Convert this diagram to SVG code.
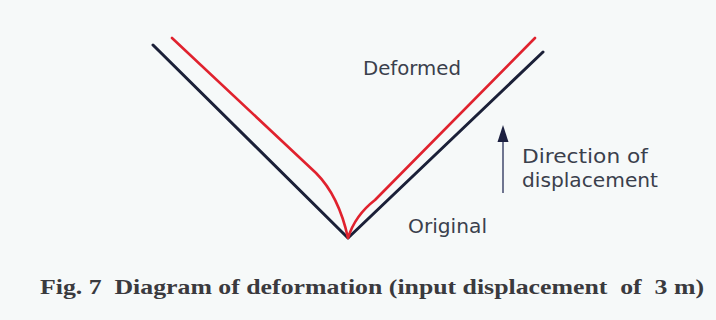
<svg xmlns="http://www.w3.org/2000/svg" width="716" height="320" viewBox="0 0 716 320">
  <defs>
    <style>
      .orig { fill: none; stroke: #1b2038; stroke-width: 3; stroke-linejoin: round; stroke-linecap: round; }
      .def { fill: none; stroke: #e0222e; stroke-width: 2.6; stroke-linejoin: round; stroke-linecap: round; }
      .lbl { font-family: "DejaVu Sans", "Liberation Sans", sans-serif; font-size: 19px; fill: #3a404c; }
      .cap { font-family: "Liberation Serif", "Times New Roman", serif; font-size: 21px; font-weight: bold; fill: #3a3a3e; }
    </style>
  </defs>
  <rect x="0" y="0" width="716" height="320" fill="#f6f9f9"/>
  <g id="connectors">
    <path id="original-line" class="orig" d="M153,45 L348,238 L543,52"/>
    <path id="deformed-line" class="def" d="M172,38 L316,173 C330,187 341,206 348,238 C353,222 362,210 375,200 L535,38"/>
    <g id="direction-arrow">
      <line x1="503" y1="193" x2="503" y2="139" stroke="#6f7590" stroke-width="2"/>
      <polygon points="503,125 497.5,142 508.5,142" fill="#1c2040"/>
    </g>
  </g>
  <g id="label-deformed">
    <text class="lbl" x="363" y="75" textLength="98" lengthAdjust="spacingAndGlyphs">Deformed</text>
  </g>
  <g id="label-direction">
    <text class="lbl" x="522" y="163" textLength="126" lengthAdjust="spacingAndGlyphs">Direction of</text>
    <text class="lbl" x="522" y="187" textLength="136" lengthAdjust="spacingAndGlyphs">displacement</text>
  </g>
  <g id="label-original">
    <text class="lbl" x="408" y="233" textLength="79" lengthAdjust="spacingAndGlyphs">Original</text>
  </g>
  <g id="caption">
    <text class="cap" x="40" y="294" textLength="664" lengthAdjust="spacingAndGlyphs" xml:space="preserve">Fig. 7  Diagram of deformation (input displacement  of  3 m)</text>
  </g>
</svg>
